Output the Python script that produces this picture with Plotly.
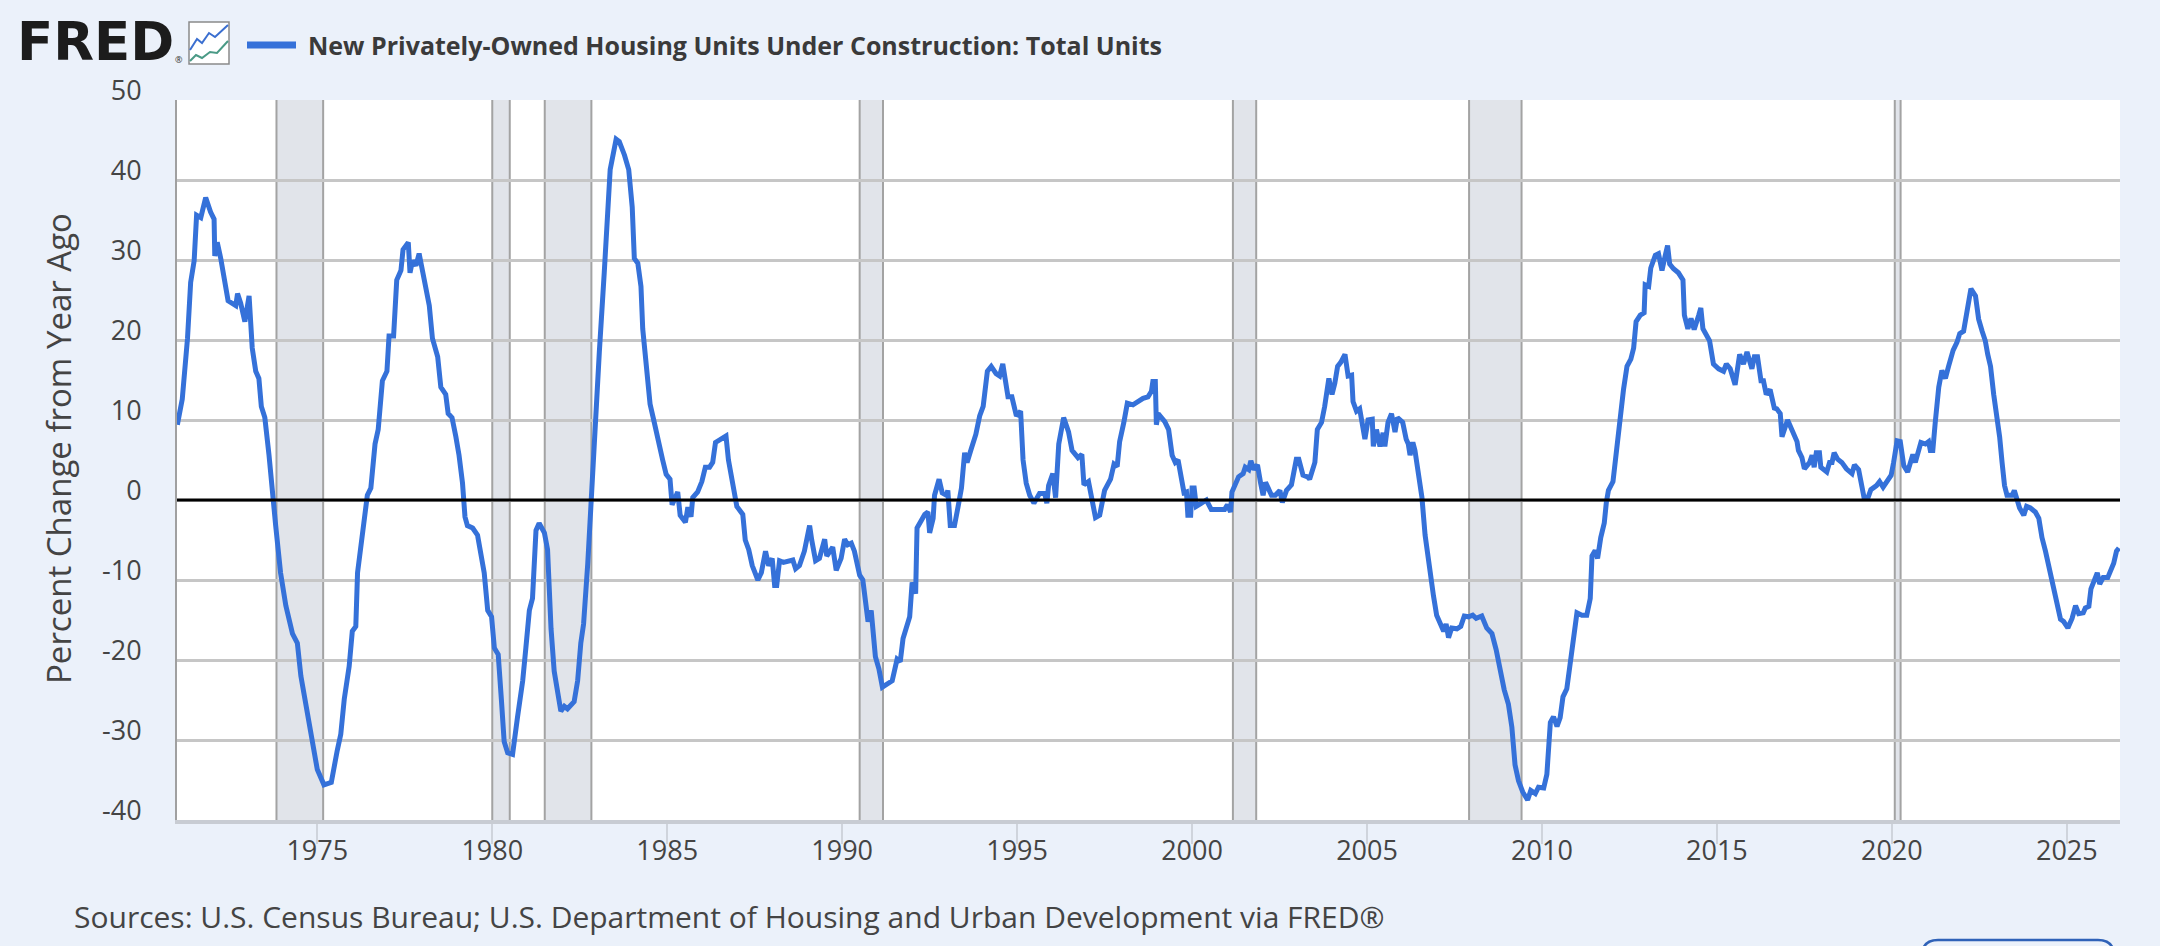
import plotly.graph_objects as go

# 住房在建 同比变化(%)，按图读数；年份用小数表示
years = [
    1971.00, 1971.14, 1971.29, 1971.38, 1971.48, 1971.55, 1971.67, 1971.81, 1971.95, 1972.05,
    1972.07, 1972.14, 1972.24, 1972.33, 1972.45, 1972.67, 1972.72, 1972.81, 1972.93, 1973.05,
    1973.08, 1973.14, 1973.24, 1973.33, 1973.40, 1973.50, 1973.62, 1973.72, 1973.81, 1973.95,
    1974.10, 1974.29, 1974.43, 1974.53, 1974.67, 1974.77, 1974.86, 1975.00, 1975.19, 1975.40,
    1975.57, 1975.67, 1975.77, 1975.91, 1976.00, 1976.10, 1976.15, 1976.24, 1976.36, 1976.43,
    1976.53, 1976.60, 1976.65, 1976.74, 1976.86, 1976.99, 1977.05, 1977.18, 1977.27, 1977.39,
    1977.45, 1977.60, 1977.65, 1977.72, 1977.82, 1977.91, 1978.01, 1978.12, 1978.20, 1978.29,
    1978.44, 1978.53, 1978.67, 1978.74, 1978.85, 1978.96, 1979.05, 1979.15, 1979.22, 1979.29,
    1979.44, 1979.58, 1979.67, 1979.77, 1979.87, 1979.98, 1980.06, 1980.17, 1980.26, 1980.34,
    1980.44, 1980.58, 1980.72, 1980.87, 1980.96, 1981.06, 1981.15, 1981.25, 1981.34, 1981.49,
    1981.58, 1981.68, 1981.77, 1981.87, 1981.96, 1982.06, 1982.15, 1982.34, 1982.44, 1982.53,
    1982.61, 1982.73, 1982.82, 1982.92, 1983.06, 1983.20, 1983.37, 1983.54, 1983.63, 1983.78,
    1983.90, 1984.00, 1984.06, 1984.16, 1984.25, 1984.30, 1984.40, 1984.51, 1984.63, 1984.78,
    1984.87, 1984.97, 1985.08, 1985.14, 1985.30, 1985.37, 1985.52, 1985.59, 1985.68, 1985.73,
    1985.87, 1985.99, 1986.09, 1986.21, 1986.30, 1986.38, 1986.54, 1986.68, 1986.75, 1986.88,
    1986.99, 1987.16, 1987.23, 1987.33, 1987.43, 1987.59, 1987.69, 1987.81, 1987.90, 1988.00,
    1988.07, 1988.13, 1988.21, 1988.32, 1988.48, 1988.59, 1988.67, 1988.78, 1988.92, 1989.07,
    1989.13, 1989.24, 1989.35, 1989.50, 1989.56, 1989.73, 1989.83, 1989.97, 1990.07, 1990.16,
    1990.26, 1990.35, 1990.50, 1990.59, 1990.74, 1990.83, 1990.95, 1991.05, 1991.15, 1991.28,
    1991.43, 1991.57, 1991.66, 1991.74, 1991.81, 1991.93, 1992.00, 1992.10, 1992.14, 1992.26,
    1992.36, 1992.45, 1992.50, 1992.60, 1992.64, 1992.77, 1992.86, 1992.98, 1993.02, 1993.09,
    1993.21, 1993.31, 1993.41, 1993.50, 1993.57, 1993.69, 1993.82, 1993.93, 1994.03, 1994.15,
    1994.26, 1994.40, 1994.50, 1994.59, 1994.74, 1994.85, 1994.98, 1995.10, 1995.17, 1995.26,
    1995.36, 1995.48, 1995.64, 1995.79, 1995.85, 1995.90, 1996.02, 1996.10, 1996.19, 1996.33,
    1996.47, 1996.57, 1996.74, 1996.85, 1996.91, 1997.04, 1997.14, 1997.24, 1997.36, 1997.50,
    1997.67, 1997.77, 1997.86, 1997.93, 1998.05, 1998.15, 1998.31, 1998.44, 1998.60, 1998.74,
    1998.84, 1998.88, 1998.95, 1998.98, 1999.03, 1999.22, 1999.33, 1999.43, 1999.52, 1999.60,
    1999.69, 1999.77, 1999.84, 1999.88, 1999.96, 2000.00, 2000.06, 2000.12, 2000.27, 2000.41,
    2000.55, 2000.74, 2000.86, 2000.93, 2001.01, 2001.10, 2001.14, 2001.24, 2001.33, 2001.46,
    2001.52, 2001.62, 2001.68, 2001.77, 2001.87, 2001.96, 2002.03, 2002.10, 2002.27, 2002.38,
    2002.51, 2002.58, 2002.70, 2002.84, 2002.98, 2003.05, 2003.17, 2003.30, 2003.36, 2003.51,
    2003.58, 2003.70, 2003.79, 2003.91, 2004.00, 2004.08, 2004.16, 2004.25, 2004.37, 2004.46,
    2004.56, 2004.60, 2004.70, 2004.79, 2004.94, 2005.03, 2005.15, 2005.18, 2005.27, 2005.37,
    2005.46, 2005.51, 2005.60, 2005.70, 2005.80, 2005.87, 2006.02, 2006.12, 2006.18, 2006.23,
    2006.31, 2006.37, 2006.47, 2006.57, 2006.66, 2006.78, 2006.90, 2006.99, 2007.09, 2007.19,
    2007.26, 2007.33, 2007.42, 2007.57, 2007.68, 2007.78, 2007.90, 2008.02, 2008.12, 2008.28,
    2008.42, 2008.57, 2008.69, 2008.80, 2008.92, 2009.04, 2009.14, 2009.23, 2009.33, 2009.45,
    2009.59, 2009.68, 2009.81, 2009.90, 2010.05, 2010.14, 2010.24, 2010.33, 2010.43, 2010.52,
    2010.60, 2010.71, 2010.81, 2010.90, 2011.00, 2011.14, 2011.28, 2011.38, 2011.43, 2011.52,
    2011.59, 2011.68, 2011.78, 2011.84, 2011.90, 2012.03, 2012.12, 2012.24, 2012.33, 2012.43,
    2012.54, 2012.62, 2012.69, 2012.81, 2012.92, 2012.95, 2013.05, 2013.11, 2013.24, 2013.33,
    2013.43, 2013.52, 2013.59, 2013.65, 2013.76, 2013.90, 2014.03, 2014.07, 2014.17, 2014.26,
    2014.35, 2014.48, 2014.54, 2014.60, 2014.70, 2014.79, 2014.90, 2015.05, 2015.19, 2015.27,
    2015.38, 2015.52, 2015.65, 2015.76, 2015.86, 2016.00, 2016.07, 2016.16, 2016.26, 2016.33,
    2016.41, 2016.52, 2016.64, 2016.71, 2016.81, 2016.86, 2017.02, 2017.19, 2017.29, 2017.33,
    2017.43, 2017.50, 2017.65, 2017.72, 2017.78, 2017.84, 2017.93, 2017.97, 2018.14, 2018.22,
    2018.29, 2018.35, 2018.45, 2018.57, 2018.70, 2018.86, 2018.93, 2019.05, 2019.15, 2019.21,
    2019.31, 2019.40, 2019.56, 2019.65, 2019.75, 2019.86, 2019.98, 2020.05, 2020.15, 2020.24,
    2020.34, 2020.45, 2020.53, 2020.60, 2020.67, 2020.83, 2020.96, 2021.05, 2021.10, 2021.17,
    2021.24, 2021.34, 2021.43, 2021.53, 2021.62, 2021.75, 2021.86, 2021.94, 2022.05, 2022.15,
    2022.26, 2022.39, 2022.48, 2022.58, 2022.67, 2022.74, 2022.82, 2022.91, 2023.01, 2023.08,
    2023.15, 2023.22, 2023.29, 2023.44, 2023.50, 2023.58, 2023.65, 2023.77, 2023.85, 2023.96,
    2024.10, 2024.20, 2024.29, 2024.39, 2024.51, 2024.63, 2024.72, 2024.82, 2024.91, 2025.03,
    2025.15, 2025.25, 2025.34, 2025.47, 2025.53, 2025.63, 2025.69, 2025.79, 2025.87, 2025.94,
    2026.04, 2026.17, 2026.25, 2026.34, 2026.42, 2026.49,
]
pct_change = [
    9.4, 12.6, 20.2, 27.2, 29.9, 35.6, 35.3, 37.8, 36.0, 35.1,
    30.5, 32.2, 30.2, 27.8, 24.9, 24.3, 25.8, 24.6, 22.3, 25.5,
    22.6, 19.0, 16.1, 15.2, 11.7, 10.3, 5.6, 0.3, -3.2, -9.1,
    -13.2, -16.7, -17.9, -22.0, -25.5, -27.2, -30.2, -33.7, -35.6, -35.3,
    -31.3, -29.3, -24.9, -20.8, -16.4, -15.8, -9.1, -5.6, -2.1, 0.6,
    1.5, 4.4, 7.0, 8.8, 14.9, 16.1, 20.5, 20.5, 27.5, 28.7,
    31.3, 32.2, 28.4, 29.9, 29.3, 30.8, 28.7, 26.7, 24.3, 20.2,
    17.9, 14.1, 13.2, 10.8, 10.3, 7.9, 5.6, 2.1, -2.1, -3.2,
    -3.5, -4.4, -6.7, -9.1, -13.8, -14.6, -18.5, -19.3, -24.9, -30.2,
    -31.6, -31.8, -27.2, -22.6, -18.5, -13.8, -12.3, -3.8, -2.9, -4.1,
    -6.2, -16.1, -21.4, -23.7, -26.4, -25.8, -26.1, -25.2, -22.6, -17.9,
    -15.5, -7.9, -0.3, 8.5, 18.5, 28.4, 41.3, 45.1, 44.8, 43.1,
    41.3, 36.6, 30.2, 29.6, 26.7, 21.4, 16.7, 12.0, 9.7, 6.4,
    5.0, 3.2, 2.6, -0.6, 1.0, -1.9, -2.8, -0.9, -2.1, 0.3,
    1.0, 2.3, 4.1, 4.1, 4.7, 7.2, 7.6, 8.0, 5.0, 2.1,
    -0.8, -1.8, -5.0, -6.2, -8.2, -10.0, -9.1, -6.4, -8.2, -7.3,
    -10.7, -10.7, -7.6, -7.8, -7.6, -7.5, -8.6, -8.2, -6.4, -3.2,
    -5.0, -7.6, -7.3, -4.9, -7.0, -5.9, -8.8, -7.3, -4.9, -5.6,
    -5.4, -6.4, -9.4, -10.0, -15.2, -13.8, -19.6, -21.1, -23.4, -23.0,
    -22.6, -19.9, -20.2, -17.3, -16.1, -14.6, -10.3, -11.7, -3.5, -2.6,
    -1.8, -1.5, -4.1, -2.3, 0.6, 2.6, 0.9, 0.6, 1.2, -3.2,
    -3.2, -0.9, 1.5, 5.9, 4.7, 6.4, 8.2, 10.5, 11.7, 16.1,
    16.7, 15.8, 15.5, 17.0, 12.9, 12.9, 10.5, 11.1, 5.0, 2.1,
    0.6, -0.4, 0.8, 0.8, -0.4, 1.8, 3.3, 0.3, 7.0, 10.3,
    8.5, 6.2, 5.3, 5.7, 1.9, 2.3, -0.3, -2.2, -1.9, 1.2,
    2.6, 4.5, 4.2, 7.3, 9.7, 12.1, 11.9, 12.3, 12.7, 12.9,
    13.6, 14.8, 14.8, 9.4, 10.8, 9.8, 8.8, 5.6, 4.7, 5.0,
    2.3, 0.9, 1.0, -1.9, -1.9, 1.5, 1.5, -0.8, -0.4, 0.0,
    -1.2, -1.2, -1.3, -1.2, -0.6, -1.5, 1.0, 1.9, 2.9, 3.3,
    4.1, 3.8, 4.9, 3.8, 4.4, 2.1, 0.6, 2.2, 0.6, 0.6,
    1.2, -0.3, 1.2, 1.9, 5.1, 5.1, 3.1, 2.9, 2.6, 4.7,
    8.8, 9.7, 11.7, 15.2, 13.2, 14.6, 16.7, 17.2, 18.2, 15.5,
    15.6, 12.3, 11.1, 11.4, 7.6, 10.0, 10.1, 6.7, 8.8, 6.7,
    8.4, 6.7, 9.7, 10.8, 8.5, 10.3, 9.7, 7.6, 7.0, 5.6,
    7.2, 6.2, 3.2, 0.3, -4.4, -8.5, -12.0, -14.4, -15.5, -16.4,
    -15.5, -17.2, -16.0, -16.1, -15.8, -14.5, -14.6, -14.4, -14.8, -14.5,
    -16.0, -16.7, -18.7, -21.4, -23.7, -25.5, -28.4, -33.1, -35.1, -36.5,
    -37.5, -36.3, -36.7, -35.9, -36.0, -34.3, -27.8, -27.1, -28.3, -27.2,
    -24.6, -23.6, -20.5, -17.9, -14.1, -14.4, -14.4, -12.3, -7.0, -6.3,
    -7.3, -4.7, -2.9, -0.3, 1.2, 2.3, 5.9, 10.3, 13.8, 16.7,
    17.6, 19.0, 22.3, 23.1, 23.4, 26.9, 26.7, 29.0, 30.6, 30.8,
    28.7, 30.5, 31.8, 29.5, 28.9, 28.4, 27.5, 23.1, 21.4, 22.7,
    21.3, 23.1, 24.0, 21.4, 20.5, 19.9, 17.0, 16.4, 16.1, 17.0,
    16.4, 14.4, 18.2, 17.0, 18.5, 16.4, 17.9, 17.9, 14.9, 14.9,
    13.2, 13.8, 11.5, 11.4, 10.8, 7.9, 10.0, 8.5, 7.3, 6.2,
    5.3, 3.9, 4.7, 5.6, 4.1, 5.9, 5.9, 4.1, 3.5, 4.7,
    4.7, 5.9, 5.1, 4.7, 3.9, 3.3, 4.4, 3.8, 1.8, 0.2,
    0.2, 1.3, 1.8, 2.3, 1.6, 2.2, 3.1, 4.7, 7.4, 7.3,
    4.3, 3.5, 5.0, 5.7, 4.7, 7.2, 7.0, 7.3, 6.2, 6.2,
    9.7, 14.1, 16.2, 15.2, 16.7, 18.7, 19.7, 20.8, 21.1, 24.0,
    26.4, 25.5, 22.6, 21.1, 19.9, 18.2, 16.7, 13.2, 10.3, 7.9,
    4.7, 1.8, 0.6, 0.6, 1.2, 0.0, -1.0, -1.9, -0.8, -1.0,
    -1.5, -2.3, -4.7, -6.4, -8.8, -10.8, -12.6, -14.9, -15.2, -16.0,
    -14.8, -13.2, -14.2, -14.1, -13.5, -13.3, -11.1, -10.0, -9.1, -10.5,
    -9.7, -9.7, -8.8, -7.9, -6.4, -6.0,
]

# 衰退区间
rec_start = [1973.833, 1980.0, 1981.5, 1990.5, 2001.167, 2007.917, 2020.083]
rec_end = [1975.167, 1980.5, 1982.833, 1991.167, 2001.833, 2009.417, 2020.25]

x_ticks = [1975, 1980, 1985, 1990, 1995, 2000, 2005, 2010, 2015, 2020, 2025]
y_ticks = [-40, -30, -20, -10, 0, 10, 20, 30, 40, 50]

series_name = "New Privately-Owned Housing Units Under Construction: Total Units"
y_title = "Percent Change from Year Ago"
source = "Sources: U.S. Census Bureau; U.S. Department of Housing and Urban Development via FRED®"

W, H = 2160, 946
L, R, T, B = 177, 40, 100, 126
PW, PH = W - L - R, H - T - B

blue = "#3571d9"
txt = "#444444"
fnt = "Open Sans"


def px(x):
    # 页面像素 -> paper 坐标
    return (x - L) / PW


def py(y):
    return (H - B - y) / PH


fig = go.Figure()
fig.add_trace(go.Scatter(x=years, y=pct_change, mode="lines",
                         line=dict(color=blue, width=5), showlegend=False))

# 衰退阴影
for a, b in zip(rec_start, rec_end):
    fig.add_shape(type="rect", xref="x", yref="paper", x0=a, x1=b, y0=0, y1=1,
                  fillcolor="#e1e4ea", line_width=0, layer="below")
    for e in (a, b):
        fig.add_shape(type="line", xref="x", yref="paper", x0=e, x1=e, y0=0, y1=1,
                      line=dict(color="#a3a3a3", width=2), layer="below")

# 零线
fig.add_shape(type="line", xref="paper", yref="y", x0=0, x1=1, y0=0, y1=0,
              line=dict(color="black", width=3), layer="above")

# 图例样式的标题
fig.add_shape(type="line", xref="paper", yref="paper", x0=px(247), x1=px(296), y0=py(45), y1=py(45),
              line=dict(color=blue, width=7))
fig.add_annotation(xref="paper", yref="paper", x=px(306), y=py(45), xanchor="left", yanchor="middle",
                   text=series_name, showarrow=False,
                   font=dict(family=fnt, size=25, color="#3a3a3a", weight="bold"))

# FRED 标志
fig.add_annotation(xref="paper", yref="paper", x=px(15), y=py(41), xanchor="left", yanchor="middle",
                   text="FRED", showarrow=False,
                   font=dict(family="DejaVu Sans", size=53, color="#1c1c1c", weight="bold"))
fig.add_annotation(xref="paper", yref="paper", x=px(173), y=py(60), xanchor="left", yanchor="middle",
                   text="®", showarrow=False, font=dict(family=fnt, size=9, color="#333"))


def rel(points):
    # 绝对像素 -> 相对 paper(0,1) 的像素路径
    return "M" + " L".join(f"{x - L},{T - y}" for x, y in points)


icon = dict(type="path", xref="paper", yref="paper", xsizemode="pixel", ysizemode="pixel",
            xanchor=0, yanchor=1)
fig.add_shape(**icon, path=rel([(189, 22), (229, 22), (229, 64), (189, 64)]) + " Z",
              fillcolor="white", line=dict(color="#8a8a8a", width=1.5))
fig.add_shape(**icon, path=rel([(190, 50), (197, 39), (202, 43), (209, 33), (215, 37), (228, 25)]),
              line=dict(color="#3b6fd0", width=2))
fig.add_shape(**icon, path=rel([(190, 61), (196, 55), (202, 58), (210, 52), (217, 53), (228, 41)]),
              line=dict(color="#4a9a86", width=2))

# 底部按钮的一角
fig.add_shape(type="path", xref="paper", yref="paper", xsizemode="pixel", ysizemode="pixel",
              xanchor=0, yanchor=0,
              path=(f"M{1922 - L},{H - B - 990} L{1922 - L},{H - B - 956} Q{1922 - L},{H - B - 940} {1938 - L},{H - B - 940} "
                    f"L{2098 - L},{H - B - 940} Q{2114 - L},{H - B - 940} {2114 - L},{H - B - 956} L{2114 - L},{H - B - 990}"),
              line=dict(color="#2f62b8", width=2.5))

# Y 轴标题与来源
fig.add_annotation(xref="paper", yref="paper", x=px(58), y=py(449), xanchor="center", yanchor="middle",
                   text=y_title, textangle=-90, showarrow=False, font=dict(family=fnt, size=33, color=txt))
fig.add_annotation(xref="paper", yref="paper", x=px(72), y=py(916), xanchor="left", yanchor="middle",
                   text=source, showarrow=False, font=dict(family=fnt, size=30, color=txt))

fig.update_layout(
    width=W, height=H,
    margin=dict(l=L, r=R, t=T, b=B),
    paper_bgcolor="#ebf1fa",
    plot_bgcolor="white",
    font=dict(family=fnt, color=txt, size=27),
    showlegend=False,
)
fig.update_xaxes(range=[1970.99, 2026.52], tickvals=x_ticks, showgrid=False, zeroline=False,
                 showline=True, linecolor="#c8ccd3", linewidth=3.5,
                 ticks="outside", ticklen=20, tickwidth=1.5, tickcolor="#cfd4dc",
                 ticklabelstandoff=-16,
                 tickfont=dict(family=fnt, size=27, color=txt))
fig.update_yaxes(range=[-40, 50], tickvals=y_ticks, ticktext=[str(v) for v in y_ticks],
                 showgrid=True, gridcolor="#c6c6c6", gridwidth=3, zeroline=False,
                 showline=True, linecolor="#a0a0a0", linewidth=2,
                 ticks="", ticklabelstandoff=28, ticklabelshift=-9,
                 tickfont=dict(family=fnt, size=27, color=txt))

# 去掉页面默认边距，使图正好占满窗口
fig.write_html("out.html", config={"displayModeBar": False},
               post_script="document.body.style.margin='0';")
